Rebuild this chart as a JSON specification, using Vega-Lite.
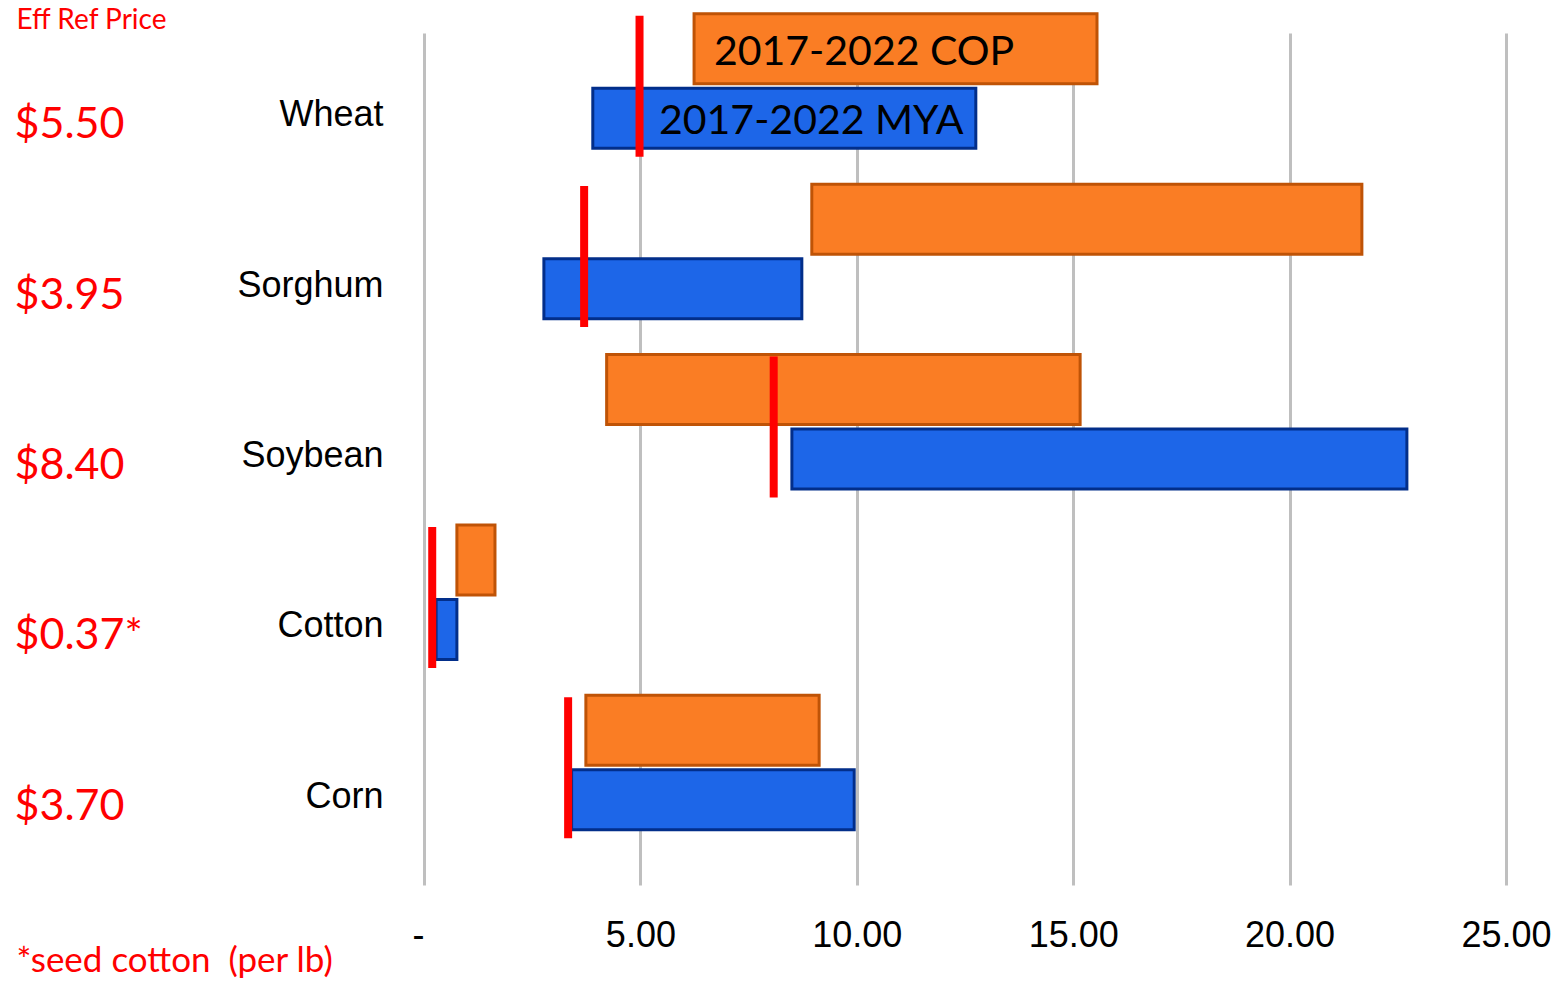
{
  "$schema": "https://vega.github.io/schema/vega-lite/v6.json",
  "width": 1082,
  "height": 852,
  "autosize": {"type": "none"},
  "padding": {"left": 424, "top": 33, "right": 51, "bottom": 97},
  "background": "white",
  "config": {"view": {"stroke": null}},
  "datasets": {
    "bars": [
      {"crop": "Wheat", "series": "COP", "start": 6.24, "end": 15.55},
      {"crop": "Wheat", "series": "MYA", "start": 3.90, "end": 12.75},
      {"crop": "Sorghum", "series": "COP", "start": 8.96, "end": 21.67},
      {"crop": "Sorghum", "series": "MYA", "start": 2.77, "end": 8.73},
      {"crop": "Soybean", "series": "COP", "start": 4.22, "end": 15.16},
      {"crop": "Soybean", "series": "MYA", "start": 8.50, "end": 22.71},
      {"crop": "Cotton", "series": "COP", "start": 0.76, "end": 1.64},
      {"crop": "Cotton", "series": "MYA", "start": 0.28, "end": 0.76},
      {"crop": "Corn", "series": "COP", "start": 3.74, "end": 9.13},
      {"crop": "Corn", "series": "MYA", "start": 3.41, "end": 9.94}
    ],
    "refs": [
      {"crop": "Wheat", "ref": 4.98, "price": "$5.50"},
      {"crop": "Sorghum", "ref": 3.70, "price": "$3.95"},
      {"crop": "Soybean", "ref": 8.08, "price": "$8.40"},
      {"crop": "Cotton", "ref": 0.19, "price": "$0.37*"},
      {"crop": "Corn", "ref": 3.33, "price": "$3.70"}
    ],
    "notes": [
      {"crop": "Wheat", "series": "COP", "at": 6.70, "text": "2017-2022 COP"},
      {"crop": "Wheat", "series": "MYA", "at": 5.43, "text": "2017-2022 MYA"}
    ]
  },
  "layer": [
    {
      "data": {"name": "bars"},
      "mark": {"type": "bar", "strokeWidth": 3, "cornerRadius": 0},
      "encoding": {
        "y": {
          "field": "crop", "type": "nominal",
          "sort": ["Wheat", "Sorghum", "Soybean", "Cotton", "Corn"],
          "scale": {"domain": ["Wheat", "Sorghum", "Soybean", "Cotton", "Corn"], "paddingInner": 0, "paddingOuter": 0},
          "axis": {
            "title": null, "domain": false, "ticks": false, "grid": false,
            "labelFont": "Liberation Sans", "labelFontSize": 36, "labelColor": "#000000",
            "labelPadding": 41, "labelOffset": -3, "labelAlign": "right", "labelBaseline": "middle"
          }
        },
        "yOffset": {
          "field": "series", "type": "nominal",
          "scale": {"domain": ["COP", "MYA"], "range": [-19, 120], "paddingInner": 0, "paddingOuter": 0}
        },
        "size": {
          "field": "series", "type": "nominal",
          "scale": {"domain": ["COP", "MYA"], "range": [70, 60]},
          "legend": null
        },
        "x": {
          "field": "start", "type": "quantitative",
          "scale": {"domain": [0, 25], "nice": false, "zero": false},
          "axis": {
            "values": [0, 5, 10, 15, 20, 25],
            "labelExpr": "datum.value == 0 ? '-' : format(datum.value, '.2f')",
            "labelAlign": {"condition": {"test": "datum.value == 0", "value": "right"}, "value": "center"},
            "labelFont": "Liberation Sans", "labelFontSize": 36, "labelColor": "#000000",
            "labelPadding": 33, "labelFlush": false,
            "domain": false, "ticks": false,
            "grid": true, "gridColor": "#BFBFBF", "gridWidth": 3,
            "title": "*seed cotton\u00a0 (per lb)",
            "titleFont": "Lato", "titleFontSize": 35, "titleFontWeight": "normal", "titleColor": "#FF0000",
            "titleAnchor": "start", "titleAlign": "left", "titleBaseline": "alphabetic",
            "titleX": -408, "titleY": 86
          }
        },
        "x2": {"field": "end"},
        "color": {
          "field": "series", "type": "nominal",
          "scale": {"domain": ["COP", "MYA"], "range": ["#FA7D24", "#1D66E8"]},
          "legend": null
        },
        "stroke": {
          "field": "series", "type": "nominal",
          "scale": {"domain": ["COP", "MYA"], "range": ["#BF5306", "#022E8A"]},
          "legend": null
        }
      }
    },
    {
      "data": {"name": "notes"},
      "mark": {"type": "text", "align": "left", "baseline": "middle", "font": "Lato", "fontSize": 41, "color": "#000000", "dy": 4},
      "encoding": {
        "y": {"field": "crop", "type": "nominal", "sort": ["Wheat", "Sorghum", "Soybean", "Cotton", "Corn"], "axis": null},
        "yOffset": {"field": "series", "type": "nominal"},
        "x": {"field": "at", "type": "quantitative"},
        "text": {"field": "text"}
      }
    },
    {
      "data": {"name": "refs"},
      "mark": {"type": "tick", "orient": "vertical", "color": "#FF0000", "thickness": 8, "size": 141, "opacity": 1, "yOffset": -32},
      "encoding": {
        "y": {
          "field": "crop", "type": "nominal",
          "sort": ["Wheat", "Sorghum", "Soybean", "Cotton", "Corn"],
          "axis": {
            "orient": "left", "domain": false, "ticks": false, "grid": false,
            "labelExpr": "datum.value == 'Wheat' ? '$5.50' : datum.value == 'Sorghum' ? '$3.95' : datum.value == 'Soybean' ? '$8.40' : datum.value == 'Cotton' ? '$0.37*' : '$3.70'",
            "labelFont": "Lato", "labelFontSize": 43, "labelColor": "#FF0000",
            "labelAlign": "left", "labelPadding": 410, "labelOffset": 7, "labelBaseline": "middle",
            "title": "Eff Ref Price", "titleAngle": 0, "titleFont": "Lato", "titleFontSize": 28,
            "titleFontWeight": "normal", "titleColor": "#FF0000", "titleAlign": "left",
            "titleBaseline": "alphabetic", "titleX": -408, "titleY": -5
          }
        },
        "x": {"field": "ref", "type": "quantitative"}
      }
    }
  ],
  "resolve": {"axis": {"y": "independent"}}
}
